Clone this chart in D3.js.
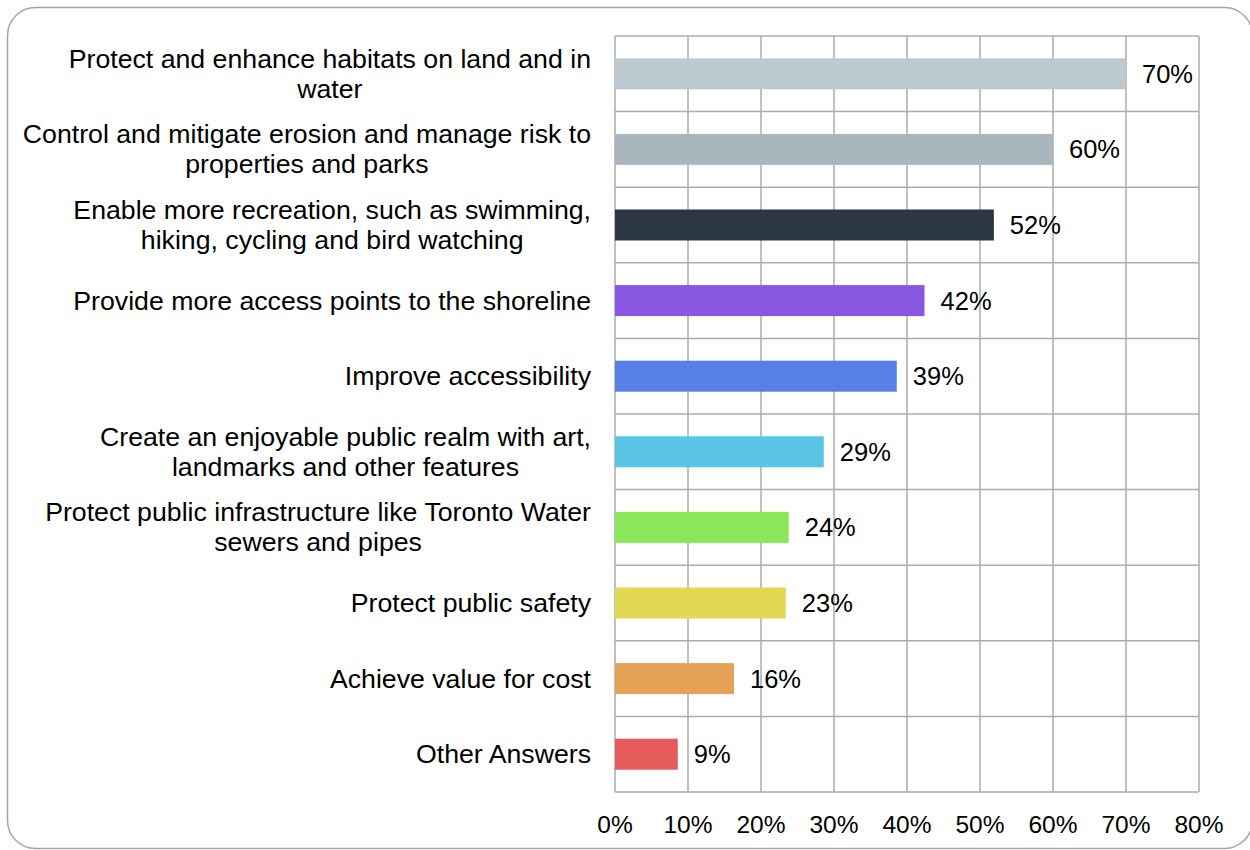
<!DOCTYPE html>
<html><head><meta charset="utf-8">
<script src="https://cdn.jsdelivr.net/npm/d3@7"></script>
<style>body{margin:0;background:#fff}svg{display:block}</style>
</head><body>
<svg id="c" width="1250" height="850"></svg>
<script>
const categories = [
  ["Protect and enhance habitats on land and in", "water"],
  ["Control and mitigate erosion and manage risk to", "properties and parks"],
  ["Enable more recreation, such as swimming,", "hiking, cycling and bird watching"],
  ["Provide more access points to the shoreline"],
  ["Improve accessibility"],
  ["Create an enjoyable public realm with art,", "landmarks and other features"],
  ["Protect public infrastructure like Toronto Water", "sewers and pipes"],
  ["Protect public safety"],
  ["Achieve value for cost"],
  ["Other Answers"]
];
const values = [70.0, 60.0, 51.9, 42.4, 38.6, 28.6, 23.8, 23.4, 16.3, 8.6];
const valueLabels = ["70%", "60%", "52%", "42%", "39%", "29%", "24%", "23%", "16%", "9%"];
const colors = ["#BCC9CF", "#AAB6BE", "#2B3742", "#8A57E3", "#5680E5", "#5BC5E6", "#8BE65A", "#E3D854", "#E6A257", "#E55A5A"];
const tickValues = [0, 10, 20, 30, 40, 50, 60, 70, 80];

(function () {
const svg = d3.select("#c");
const font = "'Liberation Sans', Arial, sans-serif";

svg.append("rect").attr("x", 7.5).attr("y", 7.5).attr("width", 1245).attr("height", 841)
  .attr("rx", 28).attr("ry", 28).attr("fill", "none").attr("stroke", "#a6a6a6").attr("stroke-width", 1.5);

const pL = 615, pR = 1199, pT = 36, pB = 792;
const x = d3.scaleLinear().domain([0, 80]).range([pL, pR]);
const y = d3.scaleBand().domain(d3.range(categories.length)).range([pT, pB]).paddingInner(0).paddingOuter(0);
const barH = 31;

const g = svg.append("g");
g.selectAll("line.v").data(tickValues).join("line").attr("class", "v")
  .attr("x1", d => x(d)).attr("x2", d => x(d)).attr("y1", pT).attr("y2", pB)
  .attr("stroke", "#ababab").attr("stroke-width", 1.5);
const hs = d3.range(categories.length + 1).map(i => i < categories.length ? y(i) : pB);
g.selectAll("line.h").data(hs).join("line").attr("class", "h")
  .attr("x1", pL).attr("x2", pR).attr("y1", d => d).attr("y2", d => d)
  .attr("stroke", "#ababab").attr("stroke-width", 1.5);

g.selectAll("rect.bar").data(values).join("rect").attr("class", "bar")
  .attr("x", x(0)).attr("y", (d, i) => y(i) + y.bandwidth() / 2 - barH / 2)
  .attr("width", d => x(d) - x(0)).attr("height", barH)
  .attr("fill", (d, i) => colors[i]);

g.selectAll("text.val").data(values).join("text").attr("class", "val")
  .attr("x", d => x(d) + 16).attr("y", (d, i) => y(i) + y.bandwidth() / 2)
  .attr("dy", "0.35em").attr("font-family", font).attr("font-size", 25.5).attr("fill", "#000")
  .text((d, i) => valueLabels[i]);

const lh = 30, labelRight = 591;
categories.forEach((lines, i) => {
  const cy = y(i) + y.bandwidth() / 2;
  const t = g.append("text").attr("font-family", font)
    .attr("font-size", 26.7).attr("fill", "#000");
  const spans = lines.map((ln, j) => t.append("tspan")
      .attr("y", cy + (j - (lines.length - 1) / 2) * lh).attr("dy", "0.34em").text(ln));
  const maxW = d3.max(spans, s => s.node().getComputedTextLength());
  spans.forEach(s => s.attr("x", labelRight - maxW / 2).attr("text-anchor", "middle"));
});

g.selectAll("text.tick").data(tickValues).join("text").attr("class", "tick")
  .attr("x", d => x(d)).attr("y", 824).attr("dy", "0.35em").attr("text-anchor", "middle")
  .attr("font-family", font).attr("font-size", 24.5).attr("fill", "#000")
  .text(d => d + "%");
})();
</script>
</body></html>
